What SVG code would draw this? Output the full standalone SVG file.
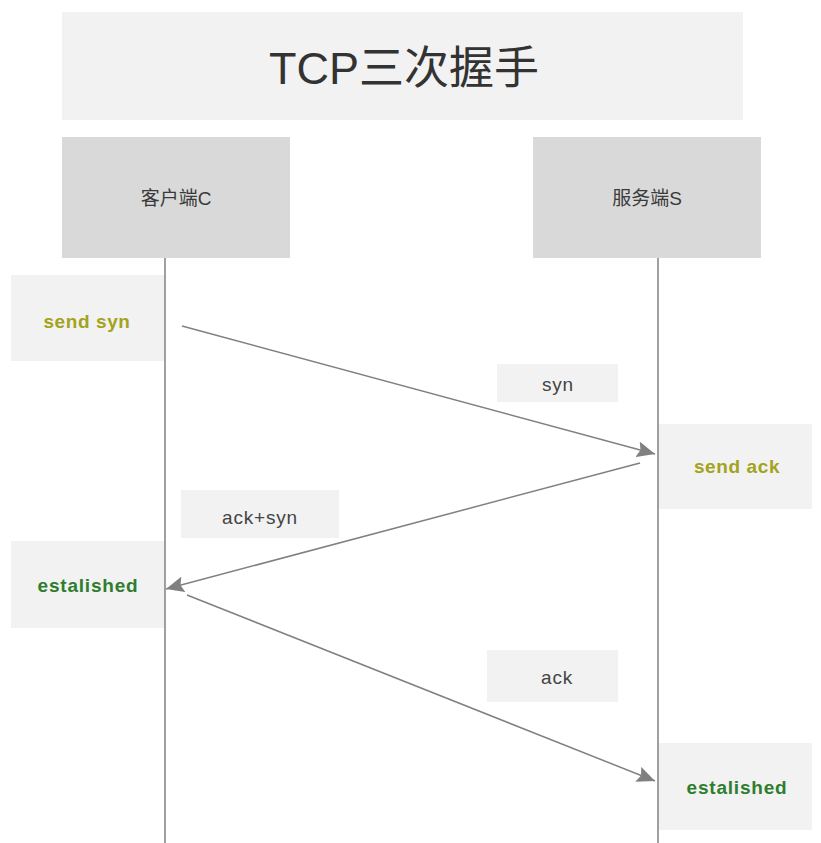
<svg xmlns="http://www.w3.org/2000/svg" width="821" height="843" viewBox="0 0 821 843">
  <style>
    .title { fill: #f2f2f2; }
    .actor { fill: #d9d9d9; }
    .state { fill: #f2f2f2; }
    .msg { fill: #f2f2f2; }
    text { font-family: "Liberation Sans", Arial, "Noto Sans CJK SC", sans-serif; text-anchor: middle; dominant-baseline: central; }
    .t-title { font-size: 45px; fill: #333333; }
    .t-actor { font-size: 19px; fill: #3a3a3a; }
    .t-msg { font-size: 19px; fill: #444444; letter-spacing: 0.8px; }
    .t-send { font-size: 19px; font-weight: bold; fill: #a3a31c; letter-spacing: 0.6px; }
    .t-est { font-size: 19px; font-weight: bold; fill: #2f7d2f; letter-spacing: 0.8px; }
    .lifeline { stroke: #808080; stroke-width: 1.5; fill: none; }
    .arrow { stroke: #808080; stroke-width: 1.5; fill: none; marker-end: url(#head); }
  </style>
  <defs>
    <marker id="head" markerUnits="userSpaceOnUse" markerWidth="20" markerHeight="16" refX="18" refY="8" orient="auto">
      <path d="M0,0 L18,8 L0,16 L3,8 Z" fill="#808080"/>
    </marker>
  </defs>
  <rect width="821" height="843" fill="#ffffff"/>

  <g id="title">
    <rect class="title" x="62" y="12" width="681" height="108"/>
    <text class="t-title" x="404" y="68">TCP三次握手</text>
  </g>

  <g id="client">
    <rect class="actor" x="62" y="137" width="228" height="121"/>
    <text class="t-actor" x="176" y="198">客户端C</text>
  </g>
  <g id="server">
    <rect class="actor" x="533" y="137" width="228" height="121"/>
    <text class="t-actor" x="647" y="198">服务端S</text>
  </g>

  <g id="send-syn">
    <rect class="state" x="11" y="275" width="154" height="86"/>
    <text class="t-send" x="87" y="321">send syn</text>
  </g>
  <g id="label-syn">
    <rect class="msg" x="497" y="364" width="121" height="38"/>
    <text class="t-msg" x="558" y="384">syn</text>
  </g>
  <g id="send-ack">
    <rect class="state" x="658" y="424" width="154" height="85"/>
    <text class="t-send" x="737" y="466">send ack</text>
  </g>
  <g id="label-ack-syn">
    <rect class="msg" x="181" y="490" width="158" height="48"/>
    <text class="t-msg" x="260" y="517">ack+syn</text>
  </g>
  <g id="established-client">
    <rect class="state" x="11" y="541" width="154" height="87"/>
    <text class="t-est" x="88" y="585">estalished</text>
  </g>
  <g id="label-ack">
    <rect class="msg" x="487" y="650" width="131" height="52"/>
    <text class="t-msg" x="557" y="677">ack</text>
  </g>
  <g id="established-server">
    <rect class="state" x="658" y="743" width="154" height="87"/>
    <text class="t-est" x="737" y="787">estalished</text>
  </g>

  <g id="connectors">
    <line class="lifeline" x1="165" y1="258" x2="165" y2="843"/>
    <line class="lifeline" x1="658" y1="258" x2="658" y2="843"/>
    <line class="arrow" x1="182" y1="326" x2="655" y2="454"/>
    <line class="arrow" x1="640" y1="463" x2="166" y2="589"/>
    <line class="arrow" x1="187" y1="595" x2="655" y2="781"/>
  </g>
</svg>
